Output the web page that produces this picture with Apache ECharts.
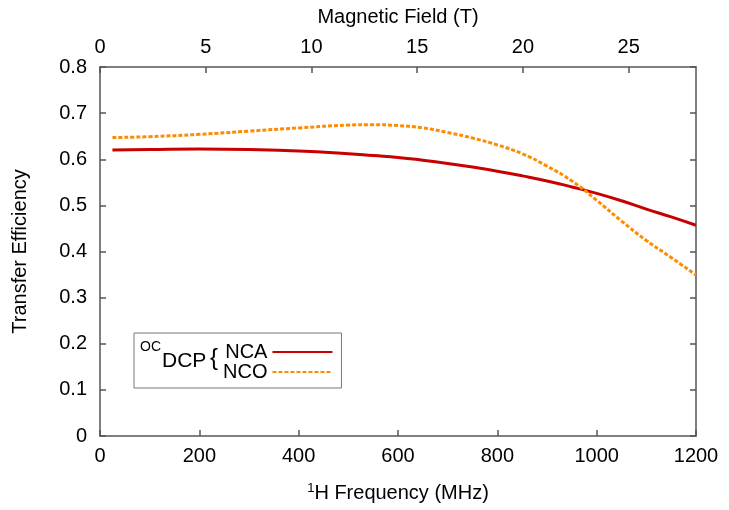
<!DOCTYPE html>
<html>
<head>
<meta charset="utf-8">
<script src="https://cdn.jsdelivr.net/npm/echarts@6/dist/echarts.min.js"></script>
<style>html,body{margin:0;padding:0;background:#fff}#c{width:729px;height:510px}</style>
</head>
<body>
<div id="c"></div>
<script>
const freq = [25,100,200,300,400,500,550,600,650,700,750,800,850,900,950,1000,1050,1100,1150,1200];
const nca  = [0.620,0.621,0.622,0.621,0.618,0.612,0.608,0.604,0.598,0.591,0.583,0.574,0.564,0.553,0.540,0.526,0.510,0.492,0.475,0.457];
const nco  = [0.647,0.649,0.654,0.661,0.668,0.674,0.675,0.673,0.668,0.658,0.646,0.631,0.612,0.585,0.553,0.511,0.466,0.424,0.387,0.349];
const seriesNames = ['NCA','NCO'];
const gamma = 42.577; // MHz per T
const FONT = 'Liberation Sans';
const axisCol = '#555';

const chart = echarts.init(document.getElementById('c'));
const line = () => ({show: true, onZero: false, lineStyle: {color: axisCol, width: 1.5}});
const tick = () => ({show: true, inside: true, length: 6, lineStyle: {color: axisCol, width: 1.5}});
const lbl = (o) => Object.assign({color: '#000', fontSize: 20, fontFamily: FONT}, o);
chart.setOption({
  animation: false,
  grid: {left: 100, right: 33, top: 67, bottom: 74},
  xAxis: [
    {
      type: 'value', position: 'bottom', min: 0, max: 1200, interval: 200,
      axisLine: line(), axisTick: tick(), splitLine: {show: false},
      axisLabel: lbl({margin: 10, formatter: v => String(v)}),
      name: '{sup|1}{n|H Frequency (MHz)}', nameLocation: 'middle', nameGap: 46,
      nameTextStyle: {
        rich: {sup: {fontSize: 13, fontFamily: FONT, color: '#000', verticalAlign: 'top', padding: [0,0,10,0]},
               n: {fontSize: 20, fontFamily: FONT, color: '#000'}}
      }
    },
    {
      type: 'value', position: 'top', min: 0, max: 1200 / gamma, interval: 5,
      axisLine: line(), axisTick: tick(), splitLine: {show: false},
      name: 'Magnetic Field (T)', nameLocation: 'middle', nameGap: 40,
      nameTextStyle: lbl({}),
      axisLabel: lbl({margin: 10, showMaxLabel: false,
        formatter: v => (Math.abs(v % 5) < 1e-6 ? String(v) : '')})
    }
  ],
  yAxis: [
    {
      type: 'value', position: 'left', min: 0, max: 0.8, interval: 0.1,
      axisLine: line(), axisTick: tick(), splitLine: {show: false},
      name: 'Transfer Efficiency', nameLocation: 'middle', nameGap: 70,
      nameTextStyle: lbl({}),
      axisLabel: lbl({margin: 13, formatter: v => (v === 0 ? '0' : v.toFixed(1))})
    },
    {
      type: 'value', position: 'right', min: 0, max: 0.8, interval: 0.1,
      axisLine: line(), axisTick: tick(), splitLine: {show: false},
      axisLabel: {show: false}
    }
  ],
  legend: {
    orient: 'vertical', left: 134, top: 333, align: 'right',
    padding: [9, 8, 6, 89], itemGap: 0, itemWidth: 60, itemHeight: 20,
    borderColor: '#777', borderWidth: 1,
    itemStyle: {opacity: 0},
    textStyle: {fontSize: 20, fontFamily: FONT, color: '#000', lineHeight: 20},
    data: seriesNames
  },
  graphic: [
    {type: 'text', left: 140, top: 340, style: {text: 'OC', fontSize: 14, fontFamily: FONT, fill: '#000'}},
    {type: 'text', left: 162, top: 351, style: {text: 'DCP', fontSize: 21, fontFamily: FONT, fill: '#000'}},
    {type: 'text', left: 210, top: 346, style: {text: '{', fontSize: 24, fontFamily: FONT, fill: '#000'}}
  ],
  series: [
    {name: seriesNames[0], type: 'line', xAxisIndex: 0, yAxisIndex: 0, smooth: true, symbol: 'none',
     data: freq.map((f, i) => [f, nca[i]]),
     lineStyle: {color: '#c80000', width: 3}, itemStyle: {color: '#c80000'}},
    {name: seriesNames[1], type: 'line', xAxisIndex: 0, yAxisIndex: 0, smooth: true, symbol: 'none',
     data: freq.map((f, i) => [f, nco[i]]),
     lineStyle: {color: '#ff8c00', width: 3, type: [4, 2]}, itemStyle: {color: '#ff8c00'}}
  ]
});
</script>
</body>
</html>
